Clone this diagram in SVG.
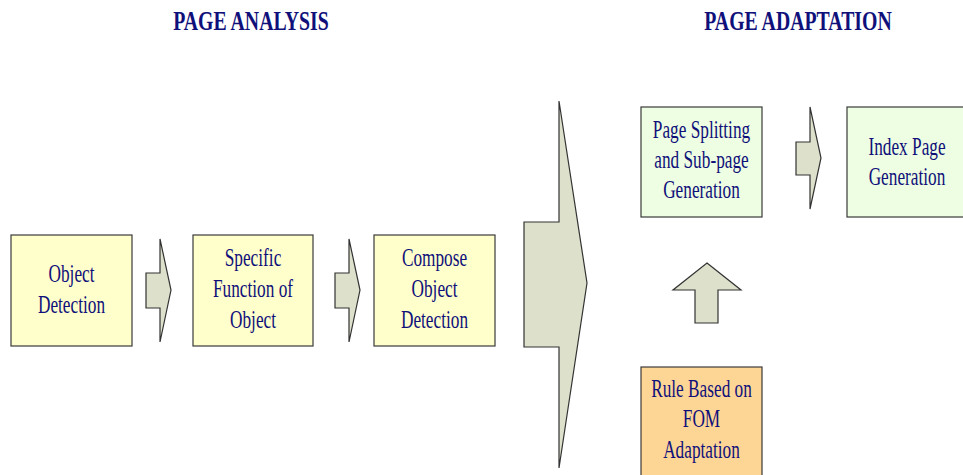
<svg xmlns="http://www.w3.org/2000/svg" width="963" height="475" viewBox="0 0 963 475">
  <style>
    .box { stroke: #3a3a3a; stroke-width: 1.2; }
    .yel { fill: #ffffcc; }
    .grn { fill: #eefee2; }
    .org { fill: #fdd696; }
    .arr { fill: #dde0cb; stroke: #333333; stroke-width: 1.2; stroke-linejoin: miter; }
    .lbl { font-family: "Liberation Serif", "Times New Roman", serif; font-size: 24.5px; fill: #10107a; text-anchor: middle; }
    .ttl { font-family: "Liberation Serif", "Times New Roman", serif; font-size: 27.5px; font-weight: bold; fill: #10107a; text-anchor: middle; }
  </style>

  <!-- section titles -->
  <g id="title-analysis" transform="translate(251,30) scale(0.72,1)">
    <text class="ttl" x="0" y="0">PAGE ANALYSIS</text>
  </g>
  <g id="title-adaptation" transform="translate(798,30) scale(0.72,1)">
    <text class="ttl" x="0" y="0">PAGE ADAPTATION</text>
  </g>

  <!-- block arrows -->
  <g id="connectors">
    <path class="arr" d="M146,273 H160 V239 L171,290 L160,342 V308 H146 Z"/>
    <path class="arr" d="M335,273 H349 V239 L360,290 L349,342 V308 H335 Z"/>
    <path class="arr" d="M524,222 H559 V101 L587,283 L559,468 V347 H524 Z"/>
    <path class="arr" d="M796,142 H810 V107 L821,158 L810,209 V175 H796 Z"/>
    <path class="arr" d="M707,263 L741,290 H718 V323 H695 V290 H673 Z"/>
  </g>

  <g id="object-detection">
    <rect class="box yel" x="11" y="235" width="121" height="111"/>
    <g transform="translate(71.5,0) scale(0.705,1)">
      <text class="lbl" x="0" y="282">Object</text>
      <text class="lbl" x="0" y="313">Detection</text>
    </g>
  </g>

  <g id="specific-function">
    <rect class="box yel" x="193" y="235" width="120" height="111"/>
    <g transform="translate(253,0) scale(0.705,1)">
      <text class="lbl" x="0" y="266">Specific</text>
      <text class="lbl" x="0" y="297">Function of</text>
      <text class="lbl" x="0" y="328">Object</text>
    </g>
  </g>

  <g id="compose-object">
    <rect class="box yel" x="374" y="235" width="121" height="111"/>
    <g transform="translate(434.5,0) scale(0.705,1)">
      <text class="lbl" x="0" y="266">Compose</text>
      <text class="lbl" x="0" y="297">Object</text>
      <text class="lbl" x="0" y="328">Detection</text>
    </g>
  </g>

  <g id="page-splitting">
    <rect class="box grn" x="641" y="107" width="121" height="110"/>
    <g transform="translate(701.5,0) scale(0.705,1)">
      <text class="lbl" x="0" y="138">Page Splitting</text>
      <text class="lbl" x="0" y="168">and Sub-page</text>
      <text class="lbl" x="0" y="198">Generation</text>
    </g>
  </g>

  <g id="index-page">
    <rect class="box grn" x="847" y="107" width="121" height="110"/>
    <g transform="translate(907,0) scale(0.705,1)">
      <text class="lbl" x="0" y="155">Index Page</text>
      <text class="lbl" x="0" y="185">Generation</text>
    </g>
  </g>

  <g id="rule-based">
    <rect class="box org" x="641" y="367" width="121" height="115"/>
    <g transform="translate(701.5,0) scale(0.705,1)">
      <text class="lbl" x="0" y="397">Rule Based on</text>
      <text class="lbl" x="0" y="427">FOM</text>
      <text class="lbl" x="0" y="458">Adaptation</text>
    </g>
  </g>
</svg>
